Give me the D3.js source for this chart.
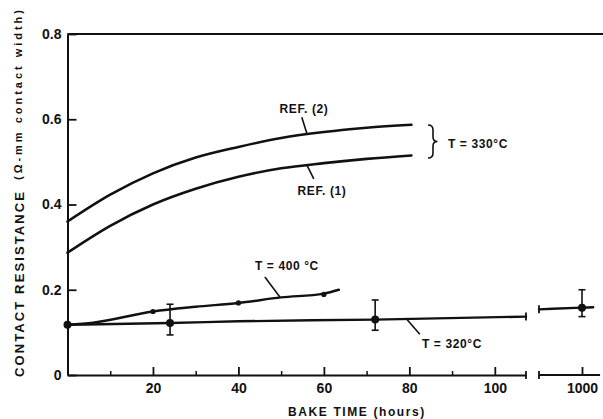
<!DOCTYPE html>
<html>
<head>
<meta charset="utf-8">
<script src="https://cdn.jsdelivr.net/npm/d3@7/dist/d3.min.js"></script>
<style>
  html, body { margin: 0; padding: 0; background: #fff; }
  svg { display: block; }
  text { font-family: "Liberation Sans", Arial, sans-serif; font-weight: bold; fill: #111; }
</style>
</head>
<body>
<svg id="chart" width="603" height="419"></svg>
<script>
// ---- data ----------------------------------------------------------------
// REF. (2) and REF. (1) at T = 330 °C (smooth reference curves)
const refHours = [0, 10, 20, 30, 40, 50, 60, 70, 80.5];
const ref2Values = [0.36, 0.423, 0.473, 0.51, 0.535, 0.556, 0.570, 0.580, 0.587];
const ref1Values = [0.287, 0.350, 0.400, 0.437, 0.465, 0.485, 0.497, 0.507, 0.515];

// T = 400 °C
const t400Hours = [0, 6, 20, 30, 40, 50, 60, 63.5];
const t400Values = [0.118, 0.123, 0.149, 0.160, 0.169, 0.182, 0.191, 0.200];
const t400PointHours = [20, 40, 60];
const t400PointValues = [0.149, 0.169, 0.189];

// T = 320 °C, short-time branch and 1000 h branch
const t320Hours = [0, 24, 40, 72, 107.3];
const t320Values = [0.118, 0.122, 0.126, 0.130, 0.137];
const t320LongHours = [950, 1000, 1013];
const t320LongValues = [0.154, 0.158, 0.159];

// measured points with error bars at T = 320 °C
const errHours = [0, 24, 72, 1000];
const errMid = [0.118, 0.122, 0.130, 0.158];
const errLow = [0.118, 0.094, 0.105, 0.137];
const errHigh = [0.118, 0.166, 0.176, 0.200];

// axis ticks
const xMajorTicks = [20, 40, 60, 80, 100];
const xMinorTicks = [10, 30, 50, 70, 90];
const xLongTicks = [1000];
const yTicks = [0, 0.2, 0.4, 0.6, 0.8];

// ---- scales ----------------------------------------------------------------
const svg = d3.select("#chart");
const x = d3.scaleLinear().domain([0, 107.3]).range([67.5, 526]);
const xLong = d3.scaleLinear().domain([950, 1050]).range([539, 625]);
const y = d3.scaleLinear().domain([0, 0.8]).range([375, 34]);
const xAny = h => (h >= 900 ? xLong(h) : x(h));

const ink = "#111";
const tickFont = 14;

// top frame line
svg.append("line")
  .attr("x1", x(0)).attr("x2", 603)
  .attr("y1", y(0.8)).attr("y2", y(0.8))
  .attr("stroke", ink).attr("stroke-width", 2);

function styleTickText(g) {
  g.selectAll(".tick text")
    .attr("font-size", tickFont)
    .attr("font-family", "Liberation Sans, Arial, sans-serif")
    .attr("font-weight", "bold").attr("fill", ink);
}

// y axis
const yAxis = d3.axisLeft(y)
  .tickValues(yTicks)
  .tickSizeInner(-9).tickSizeOuter(0).tickPadding(6)
  .tickFormat(d => d === 0 ? "0" : d.toFixed(1));
const gy = svg.append("g").attr("transform", `translate(${x(0)},0)`).call(yAxis);
gy.select(".domain").attr("stroke", ink).attr("stroke-width", 2);
gy.selectAll(".tick line").attr("stroke", ink).attr("stroke-width", 1.8);
styleTickText(gy);

// x axis, hours 0-107
const xAxis = d3.axisBottom(x)
  .tickValues(xMajorTicks)
  .tickSizeInner(-8).tickSizeOuter(0);
const gx = svg.append("g").attr("transform", `translate(0,${y(0)})`).call(xAxis);
gx.select(".domain").attr("stroke", ink).attr("stroke-width", 2);
gx.selectAll(".tick line").attr("stroke", ink).attr("stroke-width", 1.8);
gx.selectAll(".tick text").attr("y", 8).attr("dy", "0.71em");
styleTickText(gx);

const xMinor = d3.axisBottom(x).tickValues(xMinorTicks).tickSizeInner(-4).tickSizeOuter(0).tickFormat("");
const gxm = svg.append("g").attr("transform", `translate(0,${y(0)})`).call(xMinor);
gxm.select(".domain").remove();
gxm.selectAll(".tick line").attr("stroke", ink).attr("stroke-width", 1.5);

// x axis, after the break (1000 h)
const xLongAxis = d3.axisBottom(xLong).tickValues(xLongTicks)
  .tickSizeInner(-8).tickSizeOuter(0).tickFormat(d3.format("d"));
const gxl = svg.append("g").attr("transform", `translate(0,${y(0)})`).call(xLongAxis);
gxl.select(".domain").attr("d", `M${xLong(950)},0H${xLong(1021)}`).attr("stroke", ink).attr("stroke-width", 2);
gxl.selectAll(".tick line").attr("stroke", ink).attr("stroke-width", 1.8);
gxl.selectAll(".tick text").attr("y", 8).attr("dy", "0.71em");
styleTickText(gxl);

// break marks
function breakMark(px, py) {
  svg.append("line").attr("x1", px).attr("x2", px).attr("y1", py - 4).attr("y2", py + 4)
    .attr("stroke", ink).attr("stroke-width", 1.8);
}
breakMark(x(107.3), y(0));
breakMark(xLong(950), y(0));
breakMark(x(107.3), y(t320Values[t320Values.length - 1]));
breakMark(xLong(950), y(t320LongValues[0]));

// ---- curves ----------------------------------------------------------------
const line = d3.line().x(d => xAny(d[0])).y(d => y(d[1])).curve(d3.curveMonotoneX);
const series = [
  [refHours, ref2Values, 2.6],
  [refHours, ref1Values, 2.6],
  [t400Hours, t400Values, 2.4],
  [t320Hours, t320Values, 2.4],
  [t320LongHours, t320LongValues, 2.4]
];
series.forEach(([hs, vs, w]) => {
  svg.append("path")
    .datum(hs.map((h, i) => [h, vs[i]]))
    .attr("d", line)
    .attr("fill", "none").attr("stroke", ink).attr("stroke-width", w)
    .attr("stroke-linecap", "round").attr("stroke-linejoin", "round");
});

// error bars and measured points (320 °C)
errHours.forEach((h, i) => {
  const px = xAny(h);
  if (errHigh[i] > errLow[i]) {
    svg.append("line").attr("x1", px).attr("x2", px)
      .attr("y1", y(errLow[i])).attr("y2", y(errHigh[i]))
      .attr("stroke", ink).attr("stroke-width", 1.6);
    [errLow[i], errHigh[i]].forEach(v => {
      svg.append("line").attr("x1", px - 3.5).attr("x2", px + 3.5)
        .attr("y1", y(v)).attr("y2", y(v))
        .attr("stroke", ink).attr("stroke-width", 1.6);
    });
  }
  svg.append("circle").attr("cx", px).attr("cy", y(errMid[i])).attr("r", 4).attr("fill", ink);
});

// points on the 400 °C curve
t400PointHours.forEach((h, i) => {
  svg.append("circle").attr("cx", x(h)).attr("cy", y(t400PointValues[i])).attr("r", 2.6).attr("fill", ink);
});

// ---- annotations -------------------------------------------------------------
function leader(h, v, dx, dy) {
  const px = x(h), py = y(v);
  svg.append("line").attr("x1", px).attr("y1", py).attr("x2", px + dx).attr("y2", py + dy)
    .attr("stroke", ink).attr("stroke-width", 1.6);
}
function label(txt, px, py, anchor) {
  svg.append("text").attr("x", px).attr("y", py).attr("font-size", 12)
    .attr("text-anchor", anchor || "start").attr("letter-spacing", 0.6).text(txt);
}

leader(56, 0.567, -5, -16);
label("REF. (2)", 304, 113, "middle");

leader(56, 0.493, 7, 14);
label("REF. (1)", 322, 195, "middle");

leader(49.7, 0.183, -15, -20);
label("T = 400 °C", 255, 270);

leader(79.4, 0.131, 13, 15);
label("T = 320°C", 422, 348);

// brace grouping the two reference curves
svg.append("path")
  .attr("d", "M428,125 Q433,125 433,130 L433,137 Q433,141.5 437.5,141.5 Q433,141.5 433,146 L433,153 Q433,158 428,158")
  .attr("fill", "none").attr("stroke", ink).attr("stroke-width", 1.6);
label("T = 330°C", 448, 148);

// axis titles
svg.append("text")
  .attr("x", 357).attr("y", 416).attr("text-anchor", "middle")
  .attr("font-size", 12).attr("letter-spacing", 1.6)
  .text("BAKE TIME (hours)");

svg.append("text")
  .attr("transform", "translate(24,377) rotate(-90)")
  .attr("font-size", 13)
  .attr("textLength", 185).attr("lengthAdjust", "spacing")
  .text("CONTACT RESISTANCE");
svg.append("text")
  .attr("transform", "translate(22,180) rotate(-90)")
  .attr("font-size", 11)
  .attr("textLength", 170).attr("lengthAdjust", "spacing")
  .text("(Ω-mm contact width)");
</script>
</body>
</html>
